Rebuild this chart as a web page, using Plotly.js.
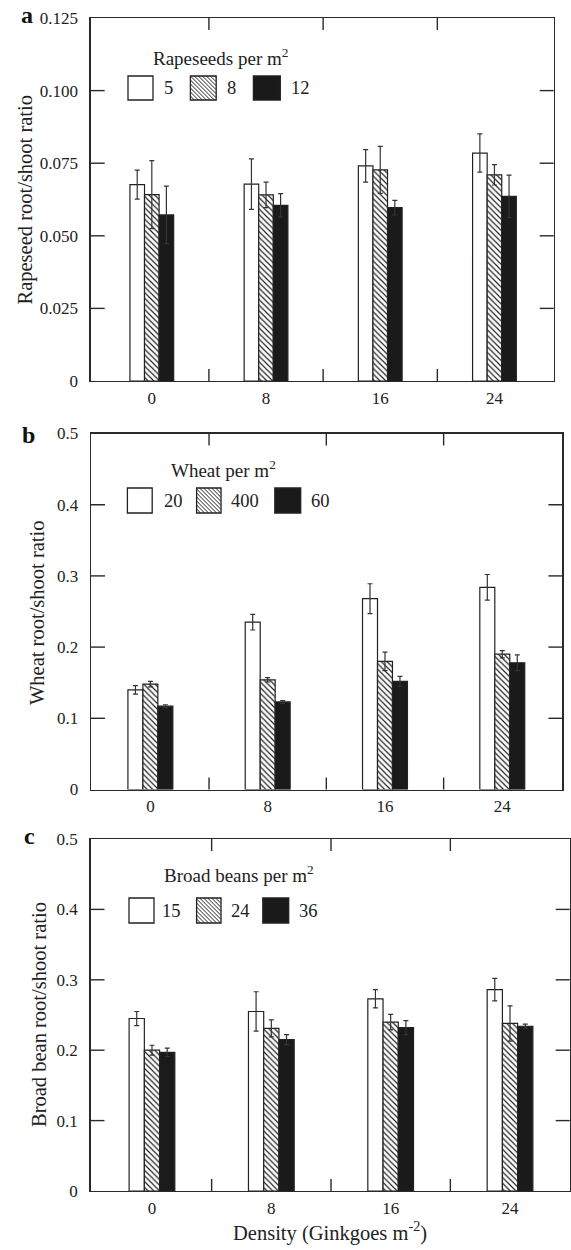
<!DOCTYPE html>
<html>
<head>
<meta charset="utf-8">
<script src="https://cdn.plot.ly/plotly-3.0.1.min.js"></script>
<style>html,body{margin:0;padding:0;background:#fff;}#chart{width:571px;height:1250px;}</style>
</head>
<body>
<div id="chart"></div>
<script>
// ---------------- DATA ----------------
const densities = [0, 8, 16, 24];
const densityLabels = ['0', '8', '16', '24'];

// Panel a: Rapeseed root/shoot ratio (rapeseeds per m2: 5, 8, 12)
const rapeseedLevels = ['5', '8', '12'];
const rape5 = [0.0676, 0.0678, 0.0741, 0.0785];
const rape5Err = [0.0050, 0.0087, 0.0056, 0.0066];
const rape8 = [0.0642, 0.0641, 0.0727, 0.0710];
const rape8Err = [0.0117, 0.0044, 0.0081, 0.0035];
const rape12 = [0.0572, 0.0605, 0.0597, 0.0636];
const rape12Err = [0.0099, 0.0040, 0.0025, 0.0073];
const rapeTicks = [0, 0.025, 0.05, 0.075, 0.1, 0.125];

// Panel b: Wheat root/shoot ratio (wheat per m2: 20, 400, 60)
const wheatLevels = ['20', '400', '60'];
const wheat20 = [0.140, 0.235, 0.268, 0.284];
const wheat20Err = [0.006, 0.011, 0.021, 0.018];
const wheat400 = [0.148, 0.154, 0.180, 0.190];
const wheat400Err = [0.004, 0.003, 0.013, 0.005];
const wheat60 = [0.117, 0.123, 0.152, 0.178];
const wheat60Err = [0.002, 0.002, 0.007, 0.011];
const ratioTicks = [0, 0.1, 0.2, 0.3, 0.4, 0.5];

// Panel c: Broad bean root/shoot ratio (broad beans per m2: 15, 24, 36)
const beanLevels = ['15', '24', '36'];
const bean15 = [0.245, 0.255, 0.273, 0.286];
const bean15Err = [0.010, 0.028, 0.013, 0.016];
const bean24 = [0.200, 0.231, 0.240, 0.238];
const bean24Err = [0.007, 0.012, 0.011, 0.025];
const bean36 = [0.197, 0.215, 0.232, 0.234];
const bean36Err = [0.006, 0.007, 0.010, 0.003];

// ---------------- LAYOUT HELPERS ----------------
const W = 571, H = 1250;
const PX = p => p / W;
const PY = p => 1 - p / H;
const FONT = "'Liberation Serif', 'Times New Roman', serif";
const TXT = '#222';
const LINE = '#2a2a2a';
const midpoints = densities.slice(1).map((d, i) => (d + densities[i]) / 2);
const YTICKLEN = 14, XTICKLEN = 12;

const styles = [
  {color: '#ffffff'},
  {color: '#ffffff', pattern: {shape: '\\', fgcolor: '#222', bgcolor: '#ffffff', size: 4, solidity: 0.3, fillmode: 'replace'}},
  {color: '#1a1a1a'}
];

const panels = [
  {
    id: '', letter: 'a', series: [[rape5, rape5Err], [rape8, rape8Err], [rape12, rape12Err]],
    levels: rapeseedLevels, legendTitle: 'Rapeseeds per m<sup>2</sup>',
    yTitle: 'Rapeseed root/shoot ratio', ticks: rapeTicks, fmt: v => v === 0 ? '0' : v.toFixed(3),
    xpx: [90.7, 553.7], ypx: [18, 381], xr: [-4.28, 28.15],
    letterPos: [27.5, 15.5], yTitlePos: [24.5, 200],
    legTitlePos: [151, 57], boxY: [76, 100], boxX: [[128, 153], [190.4, 216.2], [253.4, 280.3]], labX: [162, 224.6, 289.4]
  },
  {
    id: '2', letter: 'b', series: [[wheat20, wheat20Err], [wheat400, wheat400Err], [wheat60, wheat60Err]],
    levels: wheatLevels, legendTitle: 'Wheat per m<sup>2</sup>',
    yTitle: 'Wheat root/shoot ratio', ticks: ratioTicks, fmt: v => v === 0 ? '0' : String(v),
    xpx: [91, 562.4], ypx: [433.5, 789.5], xr: [-4.05, 28.1],
    letterPos: [28.5, 435], yTitlePos: [37, 613],
    legTitlePos: [168.5, 469], boxY: [488, 513], boxX: [[127.4, 152.2], [196.6, 221], [274.8, 300.7]], labX: [162, 229, 309.4]
  },
  {
    id: '3', letter: 'c', series: [[bean15, bean15Err], [bean24, bean24Err], [bean36, bean36Err]],
    levels: beanLevels, legendTitle: 'Broad beans per m<sup>2</sup>',
    yTitle: 'Broad bean root/shoot ratio', ticks: ratioTicks, fmt: v => v === 0 ? '0' : String(v),
    xpx: [90.5, 569.7], ypx: [839, 1191], xr: [-4.12, 28.0],
    letterPos: [29, 835.5], yTitlePos: [39, 1015],
    legTitlePos: [162, 874], boxY: [898, 923], boxX: [[129, 154], [196.6, 221], [262.8, 288.7]], labX: [160, 229, 296.7]
  }
];

const traces = [];
const layout = {
  width: W, height: H,
  margin: {l: 0, r: 0, t: 0, b: 0},
  paper_bgcolor: '#fff', plot_bgcolor: 'rgba(0,0,0,0)',
  barmode: 'group', bargap: 0.617, bargroupgap: 0,
  showlegend: false,
  font: {family: FONT, color: TXT, size: 17},
  annotations: [], shapes: []
};

function hatchPath(x0, x1, y0, y1, s) {
  const h = y1 - y0;
  let d = '';
  for (let k = x0 - h; k < x1; k += s) {
    const t0 = Math.max(0, x0 - k), t1 = Math.min(h, x1 - k);
    if (t1 - t0 > 0.3) {
      d += 'M' + PX(k + t0).toFixed(5) + ',' + PY(y0 + t0).toFixed(5) +
           'L' + PX(k + t1).toFixed(5) + ',' + PY(y0 + t1).toFixed(5);
    }
  }
  return d;
}

panels.forEach(p => {
  const xa = 'x' + p.id, ya = 'y' + p.id;
  const wpx = p.xpx[1] - p.xpx[0], hpx = p.ypx[1] - p.ypx[0];
  p.series.forEach((s, i) => {
    traces.push({
      type: 'bar', x: densities, y: s[0], xaxis: xa, yaxis: ya,
      name: p.levels[i],
      marker: Object.assign({line: {color: '#222', width: 1.2}}, styles[i]),
      error_y: {type: 'data', array: s[1], visible: true, color: '#333', thickness: 1.2, width: 2.5}
    });
  });
  layout['xaxis' + p.id] = {
    domain: [PX(p.xpx[0]), PX(p.xpx[1])], range: p.xr, anchor: ya,
    tickmode: 'array', tickvals: densities, ticktext: densityLabels,
    ticks: '', showline: true, mirror: true, linecolor: LINE, linewidth: 1.4,
    showgrid: false, zeroline: false, fixedrange: true,
    ticklabelstandoff: 1,
    tickfont: {family: FONT, size: 17, color: TXT}
  };
  layout['yaxis' + p.id] = {
    domain: [PY(p.ypx[1]), PY(p.ypx[0])], range: [p.ticks[0], p.ticks[p.ticks.length - 1]], anchor: xa,
    tickmode: 'array', tickvals: p.ticks, ticktext: p.ticks.map(p.fmt),
    ticks: '', showline: true, mirror: true, linecolor: LINE, linewidth: 1.4,
    showgrid: false, zeroline: false, fixedrange: true,
    ticklabelstandoff: 8,
    tickfont: {family: FONT, size: 17, color: TXT}
  };
  // inside tick marks on all four sides
  const tickLine = {color: LINE, width: 1.4};
  p.ticks.slice(1, -1).forEach(v => {
    layout.shapes.push({type: 'line', xref: xa + ' domain', yref: ya, x0: 0, x1: YTICKLEN / wpx, y0: v, y1: v, line: tickLine, layer: 'above'});
    layout.shapes.push({type: 'line', xref: xa + ' domain', yref: ya, x0: 1 - YTICKLEN / wpx, x1: 1, y0: v, y1: v, line: tickLine, layer: 'above'});
  });
  midpoints.forEach(m => {
    layout.shapes.push({type: 'line', xref: xa, yref: ya + ' domain', x0: m, x1: m, y0: 0, y1: XTICKLEN / hpx, line: tickLine, layer: 'above'});
    layout.shapes.push({type: 'line', xref: xa, yref: ya + ' domain', x0: m, x1: m, y0: 1 - XTICKLEN / hpx, y1: 1, line: tickLine, layer: 'above'});
  });
  layout.annotations.push({xref: 'paper', yref: 'paper', x: PX(p.letterPos[0]), y: PY(p.letterPos[1]),
    xanchor: 'center', yanchor: 'middle', showarrow: false, text: '<b>' + p.letter + '</b>',
    font: {family: FONT, size: 24, color: '#111'}});
  layout.annotations.push({xref: 'paper', yref: 'paper', x: PX(p.yTitlePos[0]), y: PY(p.yTitlePos[1]),
    xanchor: 'center', yanchor: 'middle', showarrow: false, textangle: -90, text: p.yTitle,
    font: {family: FONT, size: 20.5, color: TXT}});
  layout.annotations.push({xref: 'paper', yref: 'paper', x: PX(p.legTitlePos[0]), y: PY(p.legTitlePos[1]),
    xanchor: 'left', yanchor: 'middle', showarrow: false, text: p.legendTitle,
    font: {family: FONT, size: 19, color: TXT}});
  p.boxX.forEach((bx, i) => {
    const fill = i === 2 ? '#1a1a1a' : '#ffffff';
    layout.shapes.push({type: 'rect', xref: 'paper', yref: 'paper',
      x0: PX(bx[0]), x1: PX(bx[1]), y0: PY(p.boxY[1]), y1: PY(p.boxY[0]),
      fillcolor: fill, line: {color: '#222', width: 1.3}, layer: 'above'});
    if (i === 1) {
      layout.shapes.push({type: 'path', xref: 'paper', yref: 'paper',
        path: hatchPath(bx[0], bx[1], p.boxY[0], p.boxY[1], 4),
        line: {color: '#222', width: 1}, layer: 'above'});
    }
    layout.annotations.push({xref: 'paper', yref: 'paper', x: PX(p.labX[i]), y: PY((p.boxY[0] + p.boxY[1]) / 2),
      xanchor: 'left', yanchor: 'middle', showarrow: false, text: p.levels[i],
      font: {family: FONT, size: 18.5, color: TXT}});
  });
});

layout.annotations.push({xref: 'paper', yref: 'paper', x: PX(330), y: PY(1231),
  xanchor: 'center', yanchor: 'middle', showarrow: false, text: 'Density (Ginkgoes m<sup>-2</sup>)',
  font: {family: FONT, size: 20.5, color: TXT}});

Plotly.newPlot('chart', traces, layout, {displayModeBar: false, staticPlot: true});
</script>
</body>
</html>
